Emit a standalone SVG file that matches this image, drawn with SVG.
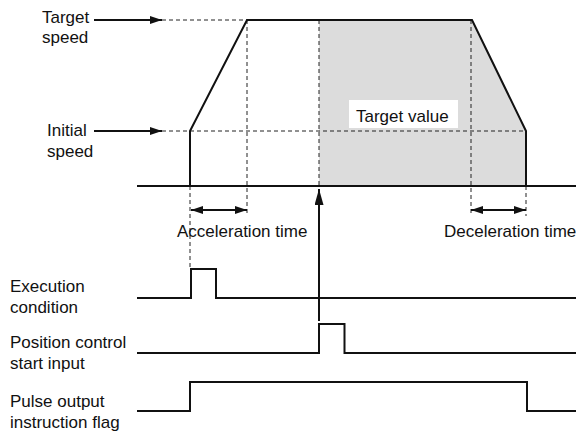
<svg xmlns="http://www.w3.org/2000/svg" width="576" height="433" viewBox="0 0 576 433">
<style>
text{font-family:"Liberation Sans",Arial,sans-serif;font-size:17px;fill:#111}
.s{fill:none;stroke:#111;stroke-width:2}
.d{fill:none;stroke:#222;stroke-width:1;stroke-dasharray:4 3}
.a{fill:none;stroke:#111;stroke-width:2}
</style>
<defs>
<marker id="ah" viewBox="0 0 12 8" refX="12" refY="4" markerWidth="12" markerHeight="8" markerUnits="userSpaceOnUse" orient="auto-start-reverse">
<path d="M0,0 L12,4 L0,8 z" fill="#111"/>
</marker>
<marker id="ah2" viewBox="0 0 16 9" refX="16" refY="4.5" markerWidth="16" markerHeight="9" markerUnits="userSpaceOnUse" orient="auto">
<path d="M0,0 L16,4.5 L0,9 z" fill="#111"/>
</marker>
</defs>
<rect width="576" height="433" fill="#fff"/>
<g id="target-area">
<polygon points="319,20 472,20 526,131 526,186 319,186" fill="#dcdcdc"/>
</g>
<g id="connectors">
<line class="d" x1="162" y1="20" x2="247" y2="20"/>
<line class="d" x1="162" y1="131" x2="526" y2="131"/>
<line class="d" x1="190" y1="186" x2="190" y2="268"/>
<line class="d" x1="247" y1="20" x2="247" y2="216"/>
<line class="d" x1="319" y1="20" x2="319" y2="186"/>
<line class="d" x1="471" y1="20" x2="471" y2="216"/>
<line class="d" x1="526" y1="186" x2="526" y2="216"/>
<line class="a" x1="94" y1="20" x2="162" y2="20" marker-end="url(#ah)"/>
<line class="a" x1="94" y1="131" x2="162" y2="131" marker-end="url(#ah)"/>
<line class="a" x1="191" y1="210" x2="247" y2="210" marker-start="url(#ah)" marker-end="url(#ah)"/>
<line class="a" x1="471" y1="210" x2="526" y2="210" marker-start="url(#ah)" marker-end="url(#ah)"/>
<line class="a" x1="319" y1="321" x2="319" y2="189" marker-end="url(#ah2)"/>
</g>
<g id="speed-profile">
<line class="s" x1="137" y1="186" x2="576" y2="186"/>
<polyline class="s" points="190,186 190,131 247,20 472,20 526,131 526,186"/>
</g>
<g id="target-value">
<rect x="349" y="100" width="109" height="28" fill="#fff"/>
<text x="356" y="122">Target value</text>
</g>
<g id="label-target-speed">
<text x="42" y="23">Target</text>
<text x="42" y="43">speed</text>
</g>
<g id="label-initial-speed">
<text x="47" y="136">Initial</text>
<text x="47" y="157">speed</text>
</g>
<g id="label-acc">
<text x="177" y="237">Acceleration time</text>
</g>
<g id="label-dec">
<text x="444" y="237">Deceleration time</text>
</g>
<g id="execution-condition">
<text x="10" y="292">Execution</text>
<text x="10" y="313">condition</text>
<polyline class="s" points="137,298 191,298 191,269 216,269 216,298 576,298"/>
</g>
<g id="position-control-start">
<text x="10" y="347.5">Position control</text>
<text x="10" y="368.5">start input</text>
<polyline class="s" points="137,353 319,353 319,324 344.5,324 344.5,353 576,353"/>
</g>
<g id="pulse-output-flag">
<text x="10" y="406.5">Pulse output</text>
<text x="10" y="427.5">instruction flag</text>
<polyline class="s" points="137,411 190,411 190,382 527,382 527,411 576,411"/>
</g>
</svg>
